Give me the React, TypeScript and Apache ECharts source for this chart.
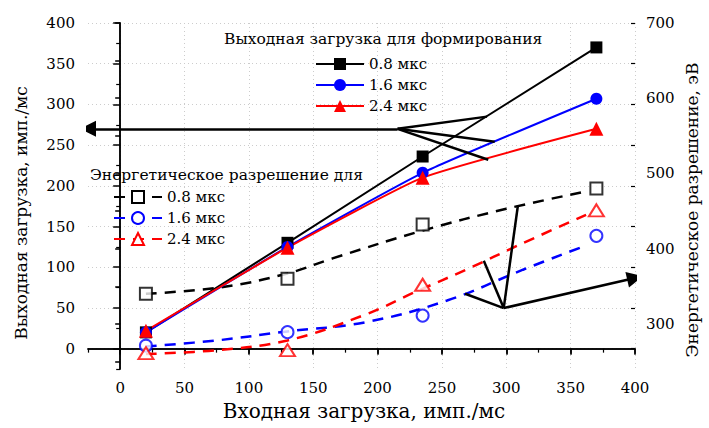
import React, { useEffect, useRef } from "react";
import * as echarts from "echarts";

// ---- axis ticks / labels ----
const xMajorTicks = [0, 50, 100, 150, 200, 250, 300, 350, 400];
const xMinorTicks = [-25, 25, 75, 125, 175, 225, 275, 325, 375];
const leftMajorTicks = [0, 50, 100, 150, 200, 250, 300, 350, 400];
const leftMinorTicks = [-25, 25, 75, 125, 175, 225, 275, 325, 375];
const rightLabelTicks = [300, 400, 500, 600, 700];
const rightAllTicks = [250, 300, 350, 400, 450, 500, 550, 600, 650, 700];

// ---- data ----
const inputLoad = [20, 130, 235, 370];
const outLoad08 = [20, 130, 236, 370];
const outLoad16 = [20, 125, 216, 307];
const outLoad24 = [22, 124, 210, 270];

const resol08 = [340, 360, 432, 480];
const resol16 = [271, 289, 311, 417];
const resol24 = [261, 265, 352, 451];

// fitted (dashed) curves of the energy resolution
const fit08X = [20, 80, 130, 165, 235, 300, 362];
const fit08Y = [340, 349, 367, 387, 424, 453, 476];
const fit16X = [20, 75, 130, 190, 254, 313, 360];
const fit16Y = [270, 278, 290, 302, 331, 372, 403];
const fit24X = [20, 75, 130, 190, 230, 270, 310, 362];
const fit24Y = [260, 265, 278, 312, 343, 373, 405, 445];

// annotation arrows (data coordinates)
const leftArrow = [[215.5, 270], [-25, 270]];
const leftFan = [
  [[215.5, 270], [285, 285]],
  [[215.5, 270], [291, 254]],
  [[215.5, 270], [286, 232]],
];
const rightArrow = [[298, 321], [400, 361]];
const rightFan = [
  [[298, 321], [309, 457]],
  [[298, 321], [282.5, 384]],
  [[298, 321], [268, 340]],
];

const legendLabels: Record<string, string> = {
  o08: "0.8 мкс",
  o16: "1.6 мкс",
  o24: "2.4 мкс",
  e08: "0.8 мкс",
  e16: "1.6 мкс",
  e24: "2.4 мкс",
};

const FONT = "'DejaVu Serif', serif";
const BLACK = "#000000";
const BLUE = "#0000ff";
const RED = "#ff0000";

const zip = (xs: number[], ys: number[]) => xs.map((x, i) => [x, ys[i]]);

export default function App() {
  const ref = useRef<HTMLDivElement>(null);

  useEffect(() => {
    if (!ref.current) return;
    const chart = echarts.init(ref.current, undefined, { renderer: "svg" });

    const axisLine = { show: true, lineStyle: { color: BLACK, width: 1.5 } };
    const tickLabelStyle = { fontFamily: FONT, fontSize: 15, color: BLACK };
    const splitLine = {
      show: true,
      lineStyle: { color: "#cccccc", type: [1, 3] as any, width: 1 },
    };

    const legendBase = {
      orient: "vertical" as const,
      itemWidth: 48,
      itemHeight: 15,
      itemGap: 3,
      padding: 0,
      selectedMode: false,
      formatter: (n: string) => legendLabels[n] ?? n,
      textStyle: { fontFamily: FONT, fontSize: 15, color: BLACK, lineHeight: 18 },
    };

    const solid = (name: string, ys: number[], color: string, symbol: string, size: number, smooth: number) => ({
      name,
      type: "line",
      xAxisIndex: 0,
      yAxisIndex: 0,
      data: zip(inputLoad, ys),
      symbol,
      symbolSize: size,
      smooth,
      itemStyle: { color },
      lineStyle: { color, width: 2 },
      emphasis: { disabled: true },
      z: 5,
    });

    const fit = (name: string, xs: number[], ys: number[], color: string, symbol: string) => ({
      name,
      type: "line",
      xAxisIndex: 0,
      yAxisIndex: 1,
      data: zip(xs, ys),
      symbol,
      showSymbol: false,
      smooth: 0.4,
      itemStyle: { color },
      lineStyle: { color, width: 2.5, type: [11, 8] as any },
      emphasis: { disabled: true },
      z: 3,
    });

    const marks = (name: string, ys: number[], color: string, symbol: string, size: number | number[]) => ({
      name,
      type: "scatter",
      xAxisIndex: 0,
      yAxisIndex: 1,
      data: zip(inputLoad, ys),
      symbol,
      symbolSize: size,
      itemStyle: { color, borderColor: color, borderWidth: 1.1 },
      emphasis: { disabled: true },
      z: 4,
    });

    const lines = (yAxisIndex: number, segs: number[][][], arrow: boolean) => ({
      type: "lines",
      coordinateSystem: "cartesian2d",
      xAxisIndex: 0,
      yAxisIndex,
      polyline: false,
      symbol: arrow ? ["none", "path://M5,0 L10,18 L0,18 Z"] : ["none", "none"],
      symbolSize: arrow ? 16 : 0,
      lineStyle: { color: BLACK, width: 2.5, opacity: 1, curveness: 0 },
      data: segs.map((c) => ({ coords: c })),
      silent: true,
      z: 6,
    });

    const titleStyle = { fontFamily: FONT, fontSize: 15.5, fontWeight: "normal", color: BLACK };

    chart.setOption({
      animation: false,
      backgroundColor: "#ffffff",
      grid: { left: 88, right: 74, top: 23, bottom: 59, containLabel: false },
      title: [
        { text: "Выходная загрузка для формирования", left: 224, top: 31, padding: 0, textStyle: titleStyle },
        { text: "Энергетическое разрешение для", left: 90, top: 167, padding: 0, textStyle: titleStyle },
      ],
      legend: [
        { ...legendBase, data: ["o08", "o16", "o24"], left: 315, top: 55 },
        { ...legendBase, data: ["e08", "e16", "e24"], left: 113, top: 188 },
      ],
      xAxis: [
        {
          type: "value",
          position: "bottom",
          min: -25,
          max: 400,
          splitNumber: 8,
          axisLine,
          axisTick: { show: true, inside: false, length: 6, customValues: xMajorTicks, lineStyle: { color: BLACK, width: 1.5 } },
          axisLabel: { show: true, customValues: xMajorTicks, margin: 11, ...tickLabelStyle },
          splitLine,
        },
        {
          type: "value",
          position: "bottom",
          min: -25,
          max: 400,
          axisLine: { show: false },
          axisTick: { show: true, inside: false, length: 4, customValues: xMinorTicks, lineStyle: { color: BLACK, width: 1.2 } },
          axisLabel: { show: false },
          splitLine: { show: false },
        },
        {
          type: "value",
          position: "top",
          min: -25,
          max: 400,
          axisLine,
          axisTick: { show: true, inside: true, length: 5, customValues: xMajorTicks, lineStyle: { color: BLACK, width: 1.5 } },
          axisLabel: { show: false },
          splitLine: { show: false },
        },
      ],
      yAxis: [
        {
          type: "value",
          position: "left",
          min: -25,
          max: 400,
          splitNumber: 8,
          axisLine,
          axisTick: { show: true, inside: false, length: 7, customValues: leftMajorTicks, lineStyle: { color: BLACK, width: 1.5 } },
          axisLabel: { show: true, customValues: leftMajorTicks, margin: 13, ...tickLabelStyle },
          splitLine,
        },
        {
          type: "value",
          position: "right",
          min: 240,
          max: 700,
          axisLine,
          axisTick: { show: true, inside: true, length: 5, customValues: rightAllTicks, lineStyle: { color: BLACK, width: 1.5 } },
          axisLabel: { show: true, customValues: rightLabelTicks, margin: 11, ...tickLabelStyle },
          splitLine: { show: false },
        },
        {
          type: "value",
          position: "left",
          min: -25,
          max: 400,
          axisLine: { show: false },
          axisTick: { show: true, inside: false, length: 4, customValues: leftMinorTicks, lineStyle: { color: BLACK, width: 1.2 } },
          axisLabel: { show: false },
          splitLine: { show: false },
        },
        {
          type: "value",
          position: "right",
          min: -25,
          max: 400,
          axisLine: { show: false },
          axisTick: { show: true, inside: true, length: 4, customValues: leftMajorTicks, lineStyle: { color: BLACK, width: 1.2 } },
          axisLabel: { show: false },
          splitLine: { show: false },
        },
      ],
      graphic: [
        {
          type: "text",
          x: 364,
          y: 411,
          style: { text: "Входная загрузка, имп./мс", font: `20px 'DejaVu Serif', serif`, fill: BLACK, textAlign: "center", textVerticalAlign: "middle" },
        },
        {
          type: "text",
          x: 21,
          y: 213,
          rotation: Math.PI / 2,
          style: { text: "Выходная загрузка, имп./мс", font: `17px 'DejaVu Serif', serif`, fill: BLACK, textAlign: "center", textVerticalAlign: "middle" },
        },
        {
          type: "text",
          x: 692,
          y: 210,
          rotation: Math.PI / 2,
          style: { text: "Энергетическое разрешение, эВ", font: `17px 'DejaVu Serif', serif`, fill: BLACK, textAlign: "center", textVerticalAlign: "middle" },
        },
      ],
      series: [
        fit("e08", fit08X, fit08Y, BLACK, "emptyRect"),
        fit("e16", fit16X, fit16Y, BLUE, "emptyCircle"),
        fit("e24", fit24X, fit24Y, RED, "emptyTriangle"),
        marks("m08", resol08, BLACK, "emptyRect", 12),
        marks("m16", resol16, BLUE, "emptyCircle", 12),
        marks("m24", resol24, RED, "emptyTriangle", [15, 12]),
        solid("o08", outLoad08, BLACK, "rect", 12, 0),
        solid("o16", outLoad16, BLUE, "circle", 12, 0.15),
        solid("o24", outLoad24, RED, "triangle", 14, 0.15),
        lines(0, [leftArrow], true),
        lines(0, leftFan, false),
        lines(1, [rightArrow], true),
        lines(1, rightFan, false),
      ],
    });

    return () => chart.dispose();
  }, []);

  return <div ref={ref} style={{ position: "fixed", left: 0, top: 0, width: 709, height: 428 }} />;
}
